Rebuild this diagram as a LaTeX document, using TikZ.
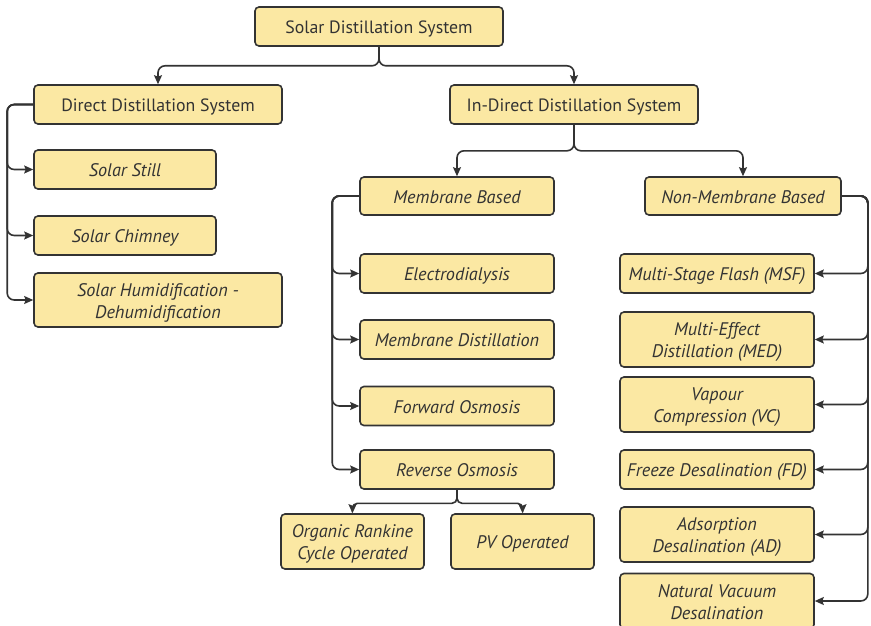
\documentclass[tikz,border=0pt]{standalone}
\usepackage{fontspec}
\setmainfont{PT Sans}
\usetikzlibrary{arrows.meta}
\definecolor{boxfill}{HTML}{FBE8A3}
\definecolor{boxline}{HTML}{333333}
\begin{document}
\begin{tikzpicture}[x=1pt,y=-1pt,
  box/.style={draw=boxline, fill=boxfill, line width=1.6pt, rounded corners=4pt,
    inner sep=0pt, align=center, text=boxline, font=\fontsize{17.8}{22}\selectfont,
    text height=16pt, text depth=2pt},
  ibox/.style={box, font=\fontsize{18.2}{22}\selectfont\itshape},
  twoline/.style={text height=38pt, text depth=2pt},
  link/.style={draw=boxline, line width=1.6pt, rounded corners=7pt,
    -{Stealth[length=9pt,width=8pt,inset=1.5pt]}}]
\useasboundingbox (0,0) rectangle (871,626);

% top levels
\node[box, minimum width=248, minimum height=39] (root) at (379,26.5) {Solar Distillation System};
\node[box, minimum width=248, minimum height=39] (direct) at (158,104.5) {Direct Distillation System};
\node[box, minimum width=248, minimum height=39] (indirect) at (574,104.5) {In-Direct Distillation System};

% direct branch
\node[ibox, minimum width=182, minimum height=39] (still) at (125,169.5) {Solar Still};
\node[ibox, minimum width=182, minimum height=39] (chimney) at (125,235.5) {Solar Chimney};
\node[ibox, twoline, minimum width=248, minimum height=54] (hdh) at (158,300) {Solar Humidification -\\Dehumidification};

% indirect branch
\node[ibox, minimum width=194, minimum height=38] (memb) at (457,196) {Membrane Based};
\node[ibox, minimum width=196, minimum height=38] (nonmemb) at (743,196) {Non-Membrane Based};

% membrane processes
\node[ibox, minimum width=194, minimum height=39] (ed) at (457,273.5) {Electrodialysis};
\node[ibox, minimum width=194, minimum height=39] (md) at (457,339.5) {Membrane Distillation};
\node[ibox, minimum width=194, minimum height=39] (fo) at (457,406) {Forward Osmosis};
\node[ibox, minimum width=194, minimum height=39] (ro) at (457,469.5) {Reverse Osmosis};
\node[ibox, twoline, minimum width=143, minimum height=55] (orc) at (352.5,541.5) {Organic Rankine\\Cycle Operated};
\node[ibox, minimum width=143, minimum height=55] (pv) at (522.5,541.5) {PV Operated};

% non-membrane processes
\node[ibox, minimum width=194, minimum height=39] (msf) at (717,273.5) {Multi-Stage Flash (MSF)};
\node[ibox, twoline, minimum width=194, minimum height=55] (med) at (717,339.5) {Multi-Effect\\Distillation (MED)};
\node[ibox, twoline, minimum width=194, minimum height=55] (vc) at (717,404.5) {Vapour\\Compression (VC)};
\node[ibox, minimum width=194, minimum height=39] (fd) at (717,469.5) {Freeze Desalination (FD)};
\node[ibox, twoline, minimum width=194, minimum height=55] (ad) at (717,534.5) {Adsorption\\Desalination (AD)};
\node[ibox, twoline, minimum width=194, minimum height=55] (nvd) at (717,601) {Natural Vacuum\\Desalination};

% connectors
\draw[link] (root.south) -- ++(0,19) -| (direct.north);
\draw[link] (root.south) -- ++(0,19) -| (indirect.north);

\foreach \t in {still,chimney,hdh}
  \draw[link] (direct.west) -- ++(-26,0) |- (\t.west);

\draw[link] (indirect.south) -- ++(0,26) -| (memb.north);
\draw[link] (indirect.south) -- ++(0,26) -| (nonmemb.north);

\foreach \t in {ed,md,fo,ro}
  \draw[link] (memb.west) -- ++(-27,0) |- (\t.west);

\foreach \t in {msf,med,vc,fd,ad,nvd}
  \draw[link] (nonmemb.east) -- ++(26,0) |- (\t.east);

\draw[link, rounded corners=5pt] (ro.south) -- ++(0,13.5) -| (orc.north);
\draw[link, rounded corners=5pt] (ro.south) -- ++(0,13.5) -| (pv.north);
\end{tikzpicture}
\end{document}
